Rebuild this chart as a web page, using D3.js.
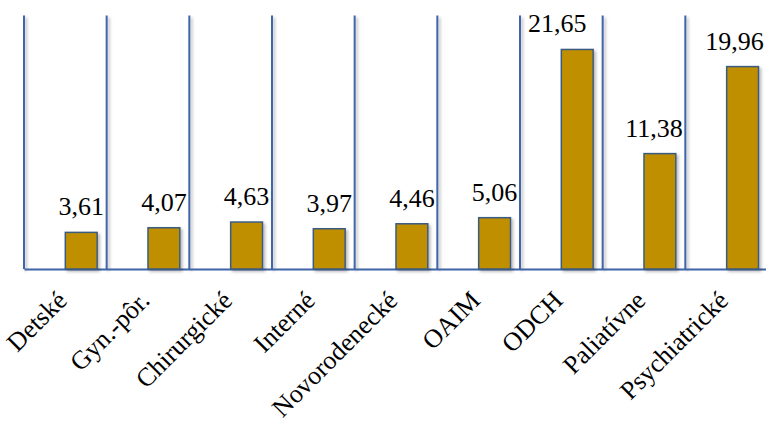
<!DOCTYPE html>
<html>
<head>
<meta charset="utf-8">
<script src="https://cdn.jsdelivr.net/npm/d3@7"></script>
<style>
  html, body { margin: 0; padding: 0; background: #fff; }
  svg { display: block; }
</style>
</head>
<body>
<svg id="chart" width="766" height="423"></svg>
<script>
// ---- data ----
const categories = ["Detské", "Gyn.-pôr.", "Chirurgické", "Interné", "Novorodenecké", "OAIM", "ODCH", "Paliatívne", "Psychiatrické"];
const values = [3.61, 4.07, 4.63, 3.97, 4.46, 5.06, 21.65, 11.38, 19.96];
const valueLabels = ["3,61", "4,07", "4,63", "3,97", "4,46", "5,06", "21,65", "11,38", "19,96"];

// ---- layout (not data) ----
const labelNudge = { "ODCH": -20, "Paliatívne": -6, "Psychiatrické": -8 };
const plot = { left: 24, right: 768, top: 15.5, bottom: 269 };
const serif = "'Liberation Serif', 'Times New Roman', serif";

const svg = d3.select("#chart");

const defs = svg.append("defs");
const f = defs.append("filter").attr("id", "shadow")
  .attr("filterUnits", "userSpaceOnUse")
  .attr("x", 0).attr("y", 0).attr("width", 800).attr("height", 450);
f.append("feDropShadow").attr("dx", 2).attr("dy", 2).attr("stdDeviation", 1.6)
  .attr("flood-color", "#000").attr("flood-opacity", 0.28);

const x = d3.scaleBand().domain(categories).range([plot.left, plot.right]).padding(0);
const y = d3.scaleLinear().domain([0, 25]).range([plot.bottom, plot.top]);
const bw = x.bandwidth();

// vertical grid lines at category boundaries
const edges = categories.map(c => x(c)).concat([plot.right]);
svg.append("g").attr("filter", "url(#shadow)")
  .selectAll("line").data(edges).join("line")
  .attr("x1", d => d).attr("x2", d => d)
  .attr("y1", y(25)).attr("y2", y(0))
  .attr("stroke", "#3F65A8").attr("stroke-width", 2);

// baseline via axis
const axis = svg.append("g")
  .attr("transform", `translate(0,${y(0)})`)
  .call(d3.axisBottom(x).tickSize(0).tickPadding(0));
axis.select(".domain").attr("stroke", "#3F65A8").attr("stroke-width", 2);
axis.selectAll(".tick text")
  .attr("font-family", serif)
  .attr("font-size", 26)
  .attr("fill", "#000")
  .attr("text-anchor", "end")
  .attr("dy", 0)
  .attr("transform", "translate(3,33) rotate(-45)");

// bars
const barW = bw * 0.385;
const barX = c => x(c) + bw * 0.5;
svg.append("g").attr("filter", "url(#shadow)")
  .selectAll("rect").data(categories).join("rect")
  .attr("x", c => barX(c))
  .attr("y", (c, i) => y(values[i]))
  .attr("width", barW)
  .attr("height", (c, i) => y(0) - y(values[i]))
  .attr("fill", "#BF8F00")
  .attr("stroke", "#3B5B82")
  .attr("stroke-width", 1.5);

// value labels
svg.append("g").selectAll("text").data(categories).join("text")
  .attr("x", c => barX(c) + barW / 2 + (labelNudge[c] || 0))
  .attr("y", (c, i) => y(values[i]) - 17)
  .attr("text-anchor", "middle")
  .attr("font-family", serif)
  .attr("font-size", 26)
  .attr("fill", "#000")
  .text((c, i) => valueLabels[i]);
</script>
</body>
</html>
